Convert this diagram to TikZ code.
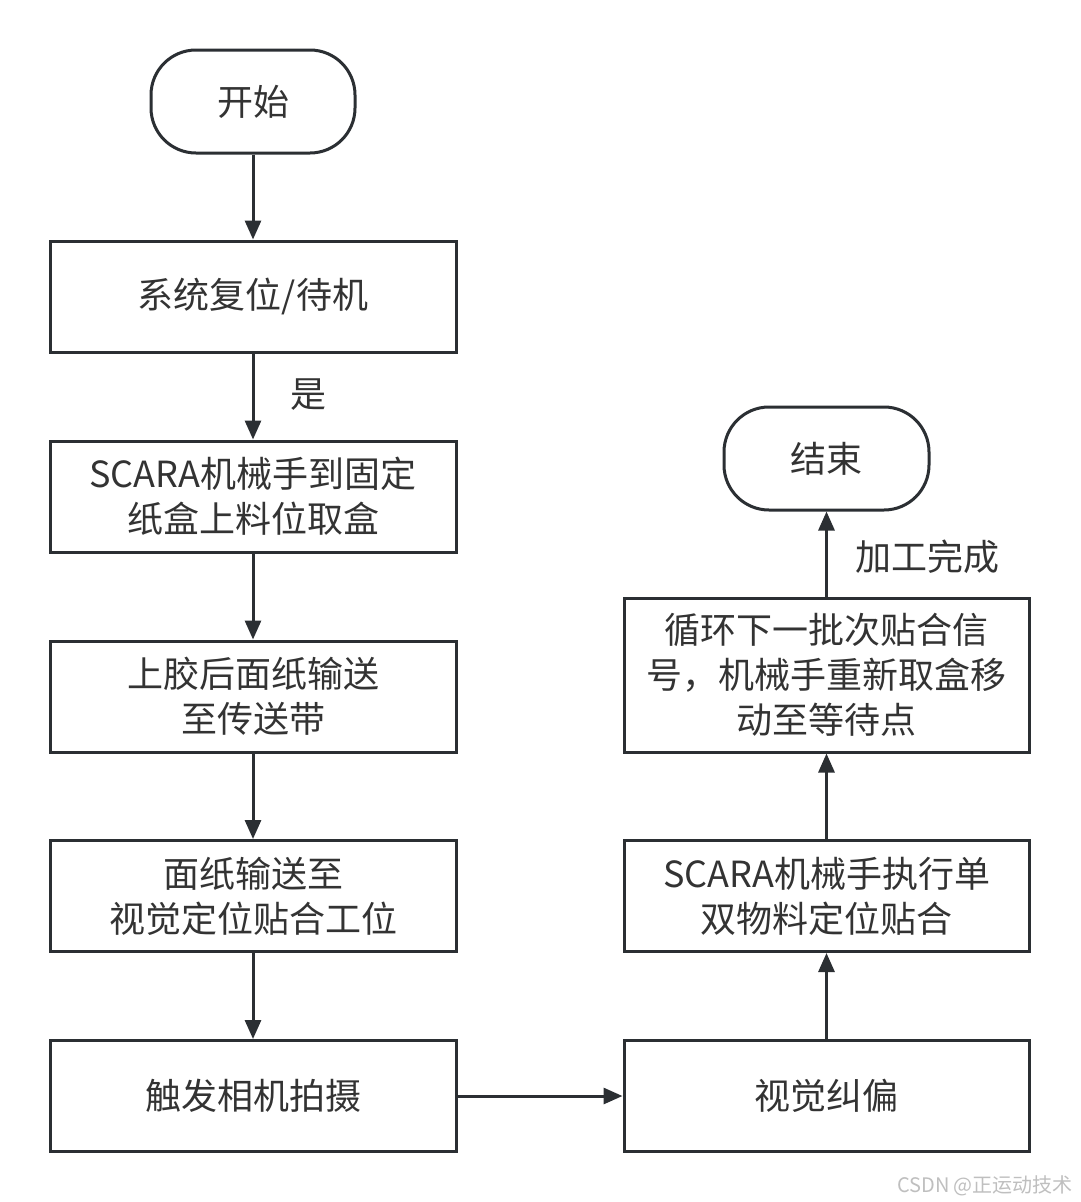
\documentclass[tikz,border=0pt]{standalone}
\usepackage{fontspec}
\setmainfont{Noto Sans CJK SC}
\usetikzlibrary{arrows.meta}
\definecolor{ln}{HTML}{2B2F33}
\definecolor{tx}{HTML}{333333}
\tikzset{
  box/.style={draw=ln, line width=3pt, fill=white, minimum width=406pt, minimum height=111pt, align=center, text=tx, font=\fontsize{36}{45}\selectfont, inner sep=0pt},
  term/.style={draw=ln, line width=3pt, fill=white, minimum width=204pt, minimum height=103pt, rounded corners=45pt, align=center, text=tx, font=\fontsize{36}{45}\selectfont, inner sep=0pt},
  lbl/.style={text=tx, font=\fontsize{36}{45}\selectfont, inner sep=0pt},
  conn/.style={draw=ln, line width=3pt, -{Triangle[length=19pt,width=16pt]}},
}
\begin{document}
\begin{tikzpicture}[x=1pt,y=-1pt]
\useasboundingbox (0,0) rectangle (1080,1202);
\fill[white] (0,0) rectangle (1080,1202);
\node[term] (start) at (253,101.5) {开始};
\node[box] (b1) at (253,296.5) {系统复位/待机};
\node[box] (b2) at (253,496.5) {SCARA机械手到固定\\纸盒上料位取盒};
\node[box] (b3) at (253,696.5) {上胶后面纸输送\\至传送带};
\node[box] (b4) at (253,896) {面纸输送至\\视觉定位贴合工位};
\node[box] (b5) at (253,1096) {触发相机拍摄};
\node[box, minimum width=405pt] (b6) at (826.5,1096) {视觉纠偏};
\node[box, minimum width=405pt] (b7) at (826.5,896) {SCARA机械手执行单\\双物料定位贴合};
\node[box, minimum width=405pt, minimum height=154pt] (b8) at (826.5,675) {循环下一批次贴合信\\号，机械手重新取盒移\\动至等待点};
\node[term, minimum width=205pt] (end) at (826.5,458.5) {结束};
\node[lbl] (yes) at (308,395) {是};
\node[lbl] (done) at (927,557) {加工完成};
\node[text=gray!50, font=\fontsize{20}{24}\selectfont, inner sep=0pt] (wm) at (985,1186) {CSDN @正运动技术};
\draw[conn] (start) -- (b1);
\draw[conn] (b1) -- (b2);
\draw[conn] (b2) -- (b3);
\draw[conn] (b3) -- (b4);
\draw[conn] (b4) -- (b5);
\draw[conn] (b5) -- (b6);
\draw[conn] (b6) -- (b7);
\draw[conn] (b7) -- (b8);
\draw[conn] (b8) -- (end);
\end{tikzpicture}
\end{document}
